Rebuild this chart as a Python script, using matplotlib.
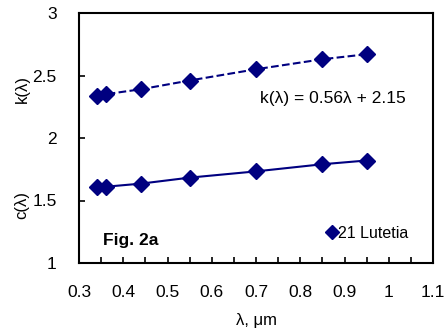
import numpy as np
import matplotlib
matplotlib.use("Agg")
import matplotlib.pyplot as plt
from matplotlib.ticker import MultipleLocator

plt.rcParams['font.family'] = ['Liberation Sans', 'DejaVu Sans']

wavelength = [0.34, 0.36, 0.44, 0.55, 0.70, 0.85, 0.95]
k_vals = [2.34, 2.35, 2.39, 2.46, 2.55, 2.63, 2.67]
c_vals = [1.605, 1.61, 1.635, 1.683, 1.733, 1.79, 1.82]
x_ticks = [0.3, 0.4, 0.5, 0.6, 0.7, 0.8, 0.9, 1.0, 1.1]
y_ticks = [1, 1.5, 2, 2.5, 3]

navy = "#000080"

fig = plt.figure(figsize=(4.47, 3.34), dpi=100)
ax = fig.add_axes([79/447, 1 - 263/334, (433-79)/447, (263-13)/334])

ax.plot(wavelength, k_vals, color=navy, ls="--", lw=1.5, marker="D", ms=8.5)
ax.plot(wavelength, c_vals, color=navy, ls="-", lw=1.5, marker="D", ms=8.5)

ax.set_xlim(0.3, 1.1)
ax.set_ylim(1, 3)
ax.set_xticks(x_ticks)
ax.set_xticklabels(["%g" % v for v in x_ticks])
ax.xaxis.set_minor_locator(MultipleLocator(0.05))
ax.set_yticks(y_ticks)
ax.set_yticklabels(["%g" % v for v in y_ticks])
ax.tick_params(which="both", direction="in", length=4, width=1.2, labelsize=12.5)
ax.tick_params(axis="x", pad=16)
ax.tick_params(axis="y", pad=16)
for s in ax.spines.values():
    s.set_linewidth(1.5)

ax.set_xlabel("λ, μm", fontsize=12, labelpad=9)
fig.text(22/447, 1 - 89/334, "k(λ)", rotation=90, ha="center", va="center", fontsize=12)
fig.text(22/447, 1 - 205/334, "c(λ)", rotation=90, ha="center", va="center", fontsize=12)

ax.text(260/447, 1 - 98/334, "k(λ) = 0.56λ + 2.15", transform=fig.transFigure,
        fontsize=12.5, va="center")
ax.text(103/447, 1 - 240/334, "Fig. 2a", transform=fig.transFigure,
        fontsize=12.5, fontweight="bold", va="center")

h, = ax.plot([], [], color=navy, ls="none", marker="D", ms=7)
ax.legend([h], ["21 Lutetia"], loc="center left", bbox_to_anchor=(327/447, 1 - 233/334),
          bbox_transform=fig.transFigure, frameon=False, fontsize=11.5,
          handlelength=0.6, handletextpad=0.1, borderpad=0, borderaxespad=0)

fig.savefig("out.png", dpi=100)
